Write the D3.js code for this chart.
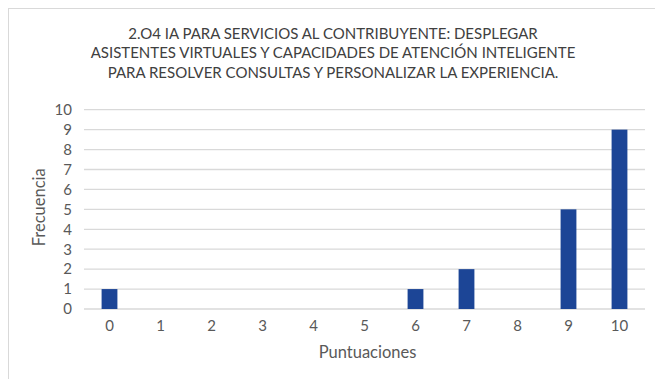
<!DOCTYPE html>
<html>
<head>
<meta charset="utf-8">
<script src="https://cdn.jsdelivr.net/npm/d3@7"></script>
<style>
  html, body { margin: 0; padding: 0; background: #fff; }
  svg { display: block; }
  text { font-family: Lato, "Open Sans", sans-serif; }
</style>
</head>
<body>
<svg id="chart" width="655" height="379"></svg>
<script>
// Score categories (x axis) and how many responses got each score
const categories = ["0", "1", "2", "3", "4", "5", "6", "7", "8", "9", "10"];
const frequencies = [1, 0, 0, 0, 0, 0, 1, 2, 0, 5, 9];
const yTicks = [0, 1, 2, 3, 4, 5, 6, 7, 8, 9, 10];
const titleLines = [
  "2.O4 IA PARA SERVICIOS AL CONTRIBUYENTE: DESPLEGAR",
  "ASISTENTES VIRTUALES Y CAPACIDADES DE ATENCIÓN INTELIGENTE",
  "PARA RESOLVER CONSULTAS Y PERSONALIZAR LA EXPERIENCIA."
];
const xTitle = "Puntuaciones";
const yTitle = "Frecuencia";

const svg = d3.select("#chart");
const W = 655, H = 379;
const plot = { left: 84, right: 645, top: 109.7, bottom: 309 };

// chart area frame
svg.append("rect")
  .attr("x", 8.5).attr("y", 8.5)
  .attr("width", W + 10).attr("height", H + 10)
  .attr("fill", "#fff").attr("stroke", "#d9d9d9").attr("stroke-width", 1);

const x = d3.scaleBand()
  .domain(categories)
  .range([plot.left, plot.right])
  .paddingInner(0.69)
  .paddingOuter(0.345);

const y = d3.scaleLinear().domain([0, 10]).range([plot.bottom, plot.top]);

// horizontal gridlines
svg.append("g")
  .selectAll("line")
  .data(yTicks)
  .join("line")
  .attr("x1", plot.left).attr("x2", plot.right)
  .attr("y1", d => y(d)).attr("y2", d => y(d))
  .attr("stroke", "#d9d9d9").attr("stroke-width", 1.3);

// y axis labels
const yAxis = d3.axisLeft(y).tickValues(yTicks).tickSize(0).tickPadding(12);
svg.append("g")
  .attr("transform", `translate(${plot.left},0)`)
  .call(yAxis)
  .call(g => g.select(".domain").remove())
  .call(g => g.selectAll("text")
    .attr("fill", "#595959")
    .style("font-size", "15px")
    .style("font-family", "Lato, 'Open Sans', sans-serif"));

// x axis labels
const xAxis = d3.axisBottom(x).tickSize(0).tickPadding(11);
svg.append("g")
  .attr("transform", `translate(0,${plot.bottom})`)
  .call(xAxis)
  .call(g => g.select(".domain").remove())
  .call(g => g.selectAll("text")
    .attr("fill", "#595959")
    .style("font-size", "15px")
    .style("font-family", "Lato, 'Open Sans', sans-serif"));

// bars
svg.append("g")
  .selectAll("rect")
  .data(categories.map((c, i) => ({ c, v: frequencies[i] })).filter(d => d.v > 0))
  .join("rect")
  .attr("x", d => x(d.c))
  .attr("width", x.bandwidth())
  .attr("y", d => y(d.v))
  .attr("height", d => y(0) - y(d.v))
  .attr("fill", "#1c4596");

// title
svg.append("g")
  .selectAll("text")
  .data(titleLines)
  .join("text")
  .attr("x", 333)
  .attr("y", (d, i) => 38.5 + i * 19.5)
  .attr("text-anchor", "middle")
  .attr("fill", "#404040")
  .style("font-size", "15px")
  .text(d => d);

// axis titles
svg.append("text")
  .attr("x", (plot.left + plot.right) / 2 + 3)
  .attr("y", 358)
  .attr("text-anchor", "middle")
  .attr("fill", "#595959")
  .style("font-size", "16.5px")
  .text(xTitle);

svg.append("text")
  .attr("transform", `translate(45,${(plot.top + plot.bottom) / 2 - 2}) rotate(-90)`)
  .attr("text-anchor", "middle")
  .attr("fill", "#595959")
  .style("font-size", "16.5px")
  .text(yTitle);
</script>
</body>
</html>
